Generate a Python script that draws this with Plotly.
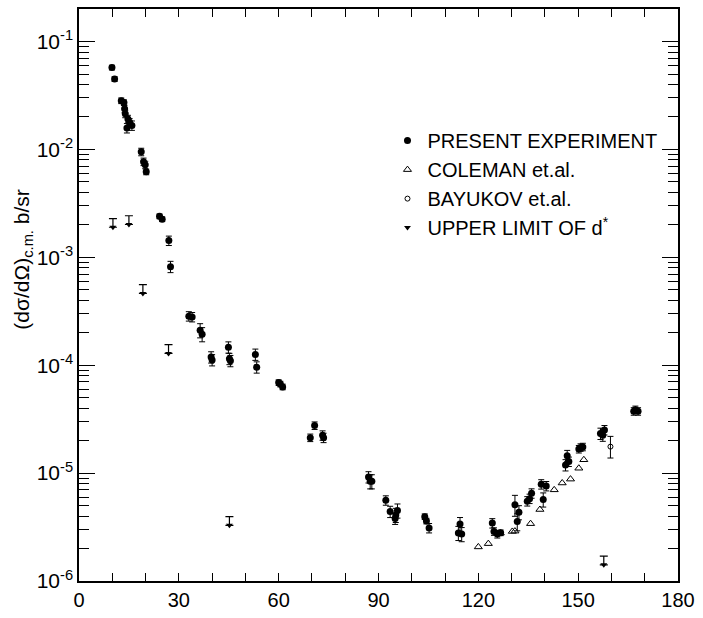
import plotly.graph_objects as go

# ---- data (angle in degrees c.m., cross section in b/sr) ----
present_angle = [9.9, 10.7, 12.7, 13.5, 13.7, 13.9, 14.7, 15.2, 14.4, 15.9, 18.7, 19.4, 19.9, 20.2,
                 24.2, 25.0, 27.0, 27.5,
                 33.0, 34.0, 36.4, 37.0, 39.7, 40.0, 44.9, 45.2, 45.5, 53.0, 53.4, 60.0, 60.5, 61.2,
                 69.5, 70.8, 73.2, 73.5,
                 87.0, 87.5, 88.0, 92.2, 93.5, 95.2, 95.7, 95.0, 103.9, 104.4, 105.2, 114.5, 114.0, 115.0,
                 124.2, 124.7, 125.7, 126.7, 131.0, 131.7, 132.2, 134.7, 135.4, 136.0, 138.9, 139.5, 140.4,
                 146.2, 146.7, 147.2, 150.2, 150.7, 151.4, 156.7, 157.4, 157.9, 166.7, 167.2, 168.0]
present_xs = [5.75e-2, 4.5e-2, 2.83e-2, 2.72e-2, 2.38e-2, 2.14e-2, 1.92e-2, 1.79e-2, 1.58e-2, 1.67e-2,
              9.5e-3, 7.7e-3, 7.2e-3, 6.2e-3,
              2.4e-3, 2.26e-3, 1.43e-3, 8.2e-4,
              2.85e-4, 2.8e-4, 2.11e-4, 1.94e-4, 1.19e-4, 1.12e-4, 1.47e-4, 1.15e-4, 1.1e-4, 1.26e-4, 9.6e-5,
              6.9e-5, 6.7e-5, 6.3e-5,
              2.13e-5, 2.76e-5, 2.24e-5, 2.13e-5,
              9.2e-6, 8.4e-6, 8.4e-6, 5.6e-6, 4.4e-6, 4.1e-6, 4.5e-6, 3.8e-6, 3.95e-6, 3.6e-6, 3.1e-6,
              3.37e-6, 2.79e-6, 2.72e-6,
              3.44e-6, 2.88e-6, 2.72e-6, 2.8e-6, 5.1e-6, 3.56e-6, 4.34e-6, 5.5e-6, 5.8e-6, 6.5e-6,
              7.9e-6, 5.7e-6, 7.6e-6,
              1.19e-5, 1.45e-5, 1.28e-5, 1.67e-5, 1.73e-5, 1.75e-5, 2.33e-5, 2.24e-5, 2.51e-5,
              3.74e-5, 3.87e-5, 3.74e-5]
present_relerr = [0.05, 0.05, 0.06, 0.06, 0.08, 0.08, 0.08, 0.08, 0.1, 0.1, 0.08, 0.08, 0.08, 0.06,
                  0.05, 0.05, 0.1, 0.12,
                  0.1, 0.1, 0.15, 0.15, 0.12, 0.12, 0.12, 0.12, 0.12, 0.12, 0.12, 0.06, 0.06, 0.06,
                  0.08, 0.08, 0.1, 0.1,
                  0.12, 0.15, 0.15, 0.1, 0.12, 0.15, 0.15, 0.12, 0.06, 0.06, 0.1, 0.15, 0.15, 0.15,
                  0.1, 0.08, 0.08, 0.06, 0.22, 0.18, 0.15, 0.1, 0.1, 0.1, 0.1, 0.15, 0.1,
                  0.12, 0.12, 0.1, 0.08, 0.08, 0.08, 0.12, 0.12, 0.1, 0.08, 0.08, 0.08]

coleman_angle = [120.0, 123.0, 126.6, 130.2, 131.0, 135.7, 138.5, 142.8, 145.2, 147.7, 150.2, 151.7]
coleman_xs = [2.07e-6, 2.22e-6, 2.78e-6, 2.88e-6, 2.9e-6, 3.4e-6, 4.6e-6, 7.0e-6, 8.1e-6, 8.8e-6, 1.11e-5, 1.33e-5]

bayukov_angle = [159.7]
bayukov_xs = [1.76e-5]
bayukov_err_up = [0.43e-5]
bayukov_err_down = [0.38e-5]

limit_angle = [10.2, 15.0, 19.2, 26.9, 45.2, 157.7]
limit_xs = [2.29e-3, 2.43e-3, 5.58e-4, 1.55e-4, 3.95e-6, 1.70e-6]

x_tick_vals = [0, 30, 60, 90, 120, 150, 180]
x_tick_text = ["0", "30", "60", "90", "120", "150", "180"]
y_tick_vals = [1e-6, 1e-5, 1e-4, 1e-3, 1e-2, 1e-1]
y_tick_text = ["10<sup>-6</sup>", "10<sup>-5</sup>", "10<sup>-4</sup>",
               "10<sup>-3</sup>", "10<sup>-2</sup>", "10<sup>-1</sup>"]

# ---- figure ----
FONT = "Liberation Sans, Arial, sans-serif"
fig = go.Figure()

fig.add_trace(go.Scatter(
    x=present_angle, y=present_xs, mode="markers", name="PRESENT EXPERIMENT",
    marker=dict(symbol="circle", size=7, color="black"),
    error_y=dict(type="data", array=[v * e for v, e in zip(present_xs, present_relerr)],
                 color="black", thickness=1, width=3),
))
fig.add_trace(go.Scatter(
    x=coleman_angle, y=coleman_xs, mode="markers", name="COLEMAN et.al.",
    marker=dict(symbol="triangle-up-open", size=7, color="black", line=dict(width=1)),
))
fig.add_trace(go.Scatter(
    x=bayukov_angle, y=bayukov_xs, mode="markers", name="BAYUKOV et.al.",
    marker=dict(symbol="circle-open", size=5, color="black", line=dict(width=1)),
    error_y=dict(type="data", symmetric=False, array=bayukov_err_up, arrayminus=bayukov_err_down,
                 color="black", thickness=1, width=3),
))
arrow_factor = 0.83
fig.add_trace(go.Scatter(
    x=limit_angle, y=[v * arrow_factor for v in limit_xs], mode="markers", name="UPPER LIMIT OF d<sup>*</sup>",
    marker=dict(symbol="triangle-down", size=6, color="black"),
    error_y=dict(type="data", symmetric=False,
                 array=[v * (1 - arrow_factor) for v in limit_xs], arrayminus=[0] * len(limit_xs),
                 color="black", thickness=1.2, width=4),
))

minor_y = [m * 10 ** e for e in range(-6, 0) for m in range(2, 10)]

fig.update_layout(
    width=703, height=618,
    margin=dict(l=79, r=25, t=7, b=31),
    paper_bgcolor="white", plot_bgcolor="white",
    font=dict(family=FONT, color="black", size=18),
    showlegend=True,
    legend=dict(x=0.515, y=0.804, xanchor="left", yanchor="top",
                font=dict(family=FONT, size=20, color="black"),
                bgcolor="rgba(0,0,0,0)", itemsizing="trace", tracegroupgap=0),
    xaxis=dict(range=[0, 180], tickvals=x_tick_vals, ticktext=x_tick_text,
               ticks="inside", ticklen=8, tickwidth=1.3, tickcolor="black",
               showline=True, linecolor="black", linewidth=1.5, mirror="ticks",
               showgrid=False, zeroline=False,
               tickfont=dict(family=FONT, size=20),
               minor=dict(dtick=10, tick0=0, ticks="inside", ticklen=8, tickwidth=1.3,
                          tickcolor="black", showgrid=False)),
    yaxis=dict(type="log", range=[-6, -0.698], tickvals=y_tick_vals, ticktext=y_tick_text,
               ticks="inside", ticklen=16, tickwidth=1.3, tickcolor="black",
               showline=True, linecolor="black", linewidth=1.5, mirror="ticks",
               showgrid=False, zeroline=False,
               tickfont=dict(family=FONT, size=21),
               minor=dict(tickvals=minor_y, ticks="inside", ticklen=10, tickwidth=1.2,
                          tickcolor="black", showgrid=False)),
    annotations=[dict(
        text="(dσ/dΩ)<sub>c.m.</sub> b/sr", textangle=-90,
        xref="paper", yref="paper", x=-0.095, y=0.562, xanchor="center", yanchor="middle",
        showarrow=False, font=dict(family=FONT, size=21, color="black"))],
)

fig.write_html("out.html")
